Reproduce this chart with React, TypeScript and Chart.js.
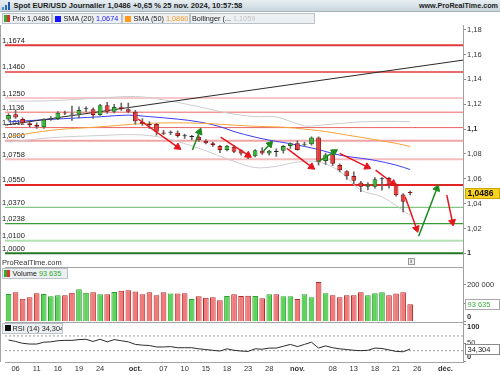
import React, { useEffect, useRef } from 'react';
import { Chart, registerables } from 'chart.js';

Chart.register(...registerables);

const FONT = '"Liberation Sans", Arial, sans-serif';

// ---------- data ----------
const dates = ['05/09','06/09','09/09','10/09','11/09','12/09','13/09','16/09','17/09','18/09','19/09','20/09','23/09','24/09','25/09','26/09','27/09','30/09',
  '01/10','02/10','03/10','04/10','07/10','08/10','09/10','10/10','11/10','14/10','15/10','16/10','17/10','18/10','21/10','22/10','23/10','24/10','25/10','28/10','29/10','30/10','31/10',
  '01/11','04/11','05/11','06/11','07/11','08/11','11/11','12/11','13/11','14/11','15/11','18/11','19/11','20/11','21/11','22/11','25/11',
  '26/11','27/11','28/11','29/11','02/12','03/12','04/12'];

const tickDates = ['06/09','11/09','16/09','19/09','24/09','01/10','07/10','10/10','15/10','18/10','23/10','28/10','01/11','08/11','13/11','18/11','21/11','26/11','02/12'];
const tickText = ['06','11','16','19','24','oct.','07','10','15','18','23','28','nov.','08','13','18','21','26','déc.'];
const monthTicks = ['oct.','nov.','déc.'];

const opens = [1.1078,1.1119,1.1081,1.1046,1.1032,1.1014,1.1078,1.1081,1.1131,1.1120,1.1118,1.1160,1.1160,1.1113,1.1192,1.1140,1.1176,1.1159,
  1.1140,1.1059,1.1040,1.1040,1.0972,1.0970,1.0970,1.0945,1.0936,1.0938,1.0906,1.0885,1.0863,1.0831,1.0857,1.0830,1.0798,1.0782,1.0825,1.0804,1.0818,1.0825,1.0863,
  1.0885,1.0874,1.0877,1.0933,1.0742,1.0798,1.0710,1.0661,1.0623,1.0570,1.0535,1.0535,1.0597,1.0607,1.0554,1.0473,1.0490];
const highs = [1.1125,1.1150,1.1090,1.1055,1.1050,1.1085,1.1100,1.1140,1.1145,1.1185,1.1180,1.1180,1.1170,1.1200,1.1215,1.1200,1.1210,1.1210,
  1.1150,1.1085,1.1060,1.1045,1.0990,1.0985,1.0985,1.0960,1.0950,1.0945,1.0915,1.0895,1.0870,1.0870,1.0870,1.0835,1.0805,1.0835,1.0850,1.0830,1.0840,1.0870,1.0890,
  1.0905,1.0895,1.0937,1.0937,1.0806,1.0810,1.0720,1.0665,1.0655,1.0580,1.0570,1.0610,1.0610,1.0612,1.0560,1.0480,1.0500];
const lows = [1.1070,1.1085,1.1040,1.1020,1.1005,1.1005,1.1070,1.1075,1.1115,1.1070,1.1090,1.1140,1.1085,1.1110,1.1125,1.1130,1.1150,1.1130,
  1.1040,1.1030,1.1005,1.0950,1.0955,1.0955,1.0935,1.0925,1.0915,1.0900,1.0880,1.0860,1.0810,1.0825,1.0810,1.0790,1.0761,1.0775,1.0795,1.0790,1.0780,1.0805,1.0845,
  1.0830,1.0860,1.0870,1.0710,1.0716,1.0705,1.0655,1.0595,1.0560,1.0497,1.0510,1.0525,1.0508,1.0525,1.0460,1.0333,1.0470];
const closes = [1.1113,1.1094,1.1046,1.1030,1.1019,1.1078,1.1080,1.1131,1.1126,1.1117,1.1153,1.1162,1.1113,1.1192,1.1140,1.1178,1.1160,1.1140,
  1.1062,1.1042,1.1030,1.0978,1.0962,1.0971,1.0944,1.0942,1.0939,1.0911,1.0885,1.0869,1.0831,1.0865,1.0817,1.0804,1.0782,1.0830,1.0804,1.0825,1.0816,1.0863,1.0885,
  1.0831,1.0880,1.0933,1.0736,1.0796,1.0720,1.0669,1.0621,1.0583,1.0535,1.0554,1.0597,1.0599,1.0548,1.0468,1.0414,1.0486];

const volumes = [149000,158000,124000,131000,153000,149000,137000,142000,142000,156000,174000,156000,158000,147000,147000,160000,167000,169000,
  163000,147000,158000,142000,158000,151000,151000,153000,122000,137000,129000,131000,115000,138000,147000,138000,140000,138000,126000,147000,147000,137000,137000,
  122000,147000,131000,213000,153000,142000,131000,142000,142000,158000,142000,153000,158000,142000,151000,158000,93635];

const rsiValues = [59,55,50,48,48,53,54,57,58,58,60,61,55,61,54,60,57,54,
  47,45,44,40,40,41,38,38,38,35,33,31,29,35,31,29,28,35,34,37,37,42,47,
  41,47,53,37,43,38,35,33,31,30,31,37,36,32,28,27,34.304];

const sma20Idx = [0,6,13,17,20,24,27,30,32,35,37,40,42,44,47,50,52,55,57];
const sma20Val = [1.1058,1.1078,1.1099,1.1112,1.1100,1.1080,1.1058,1.1020,1.0980,1.0935,1.0911,1.0882,1.0860,1.0835,1.0790,1.0765,1.0748,1.0710,1.0674];
const sma50Idx = [0,6,13,19,23,28,34,39,42,45,48,52,55,57];
const sma50Val = [1.0937,1.0990,1.1018,1.1044,1.1050,1.1045,1.1025,1.1015,1.1000,1.0980,1.0952,1.0915,1.0885,1.0860];
const bollUpIdx = [0,6,13,18,22,27,31,35,38,42,44,47,50,54,57];
const bollUpVal = [1.1225,1.1228,1.1250,1.1262,1.1235,1.1180,1.1130,1.1100,1.1098,1.1025,1.1030,1.1045,1.1058,1.1062,1.1059];
const bollLoIdx = [0,6,13,18,22,27,32,35,38,41,44,47,50,53,57];
const bollLoVal = [1.0895,1.0930,1.0948,1.0955,1.0930,1.0845,1.0740,1.0690,1.0700,1.0735,1.0735,1.0660,1.0508,1.0454,1.0306];

const trendIdx = [-0.5, 64.5];
const trendVal = [1.1032, 1.1555];

const levelValues = [1.1674,1.1460,1.1250,1.1136,1.1012,1.0906,1.0758,1.0550,1.0370,1.0238,1.0100,1.0000];
const levelColors = ['#e23a3a','#e23a3a','#f29090','#ec6464','#ec6464','#f2a4a4','#f6bcbc','#e22424','#66bb66','#3a9a3a','#b4e0b4','#237a23'];
const levelWidths = [2,1.5,1,1,1,2,2,2,1,1.2,2,2];

const arrowX0 = [18.4,30.1,39.5,47.0,52.1,56.3,62.2,26.1,36.2,43.9,58.2];
const arrowY0 = [1.1081,1.0935,1.0844,1.0804,1.0669,1.0454,1.0468,1.0831,1.0823,1.0736,1.0137];
const arrowX1 = [24.0,34.0,43.0,50.9,54.6,57.9,63.0,27.1,37.1,46.2,60.8];
const arrowY1 = [1.0855,1.0790,1.0696,1.0696,1.0562,1.0199,1.0252,1.0978,1.0879,1.0817,1.0522];
const arrowDir = ['down','down','down','down','down','down','down','up','up','up','up'];

const priceTicks = [1.0,1.02,1.04,1.06,1.08,1.1,1.12,1.14,1.16,1.18];
const boldPrice = [1.0, 1.1];
const volTicks = [0, 100000, 200000];
const rsiTicks = [0, 50, 100];
const rsiBands = [70, 30];

const sma20Last = 1.0674;
const sma50Last = 1.0860;
const bollLast = 1.1059;

// ---------- helpers ----------
const fmtPrice = (v: number) => (Math.round(v * 100) / 100).toString().replace('.', ',');
const fmt4 = (v: number) => v.toFixed(4).replace('.', ',');
const fmtVol = (v: number) => Math.round(v).toString().replace(/\B(?=(\d{3})+(?!\d))/g, ' ');
const fmtRsi = (v: number) => v.toFixed(3).replace('.', ',');

const GREEN_F = '#34b834', GREEN_B = '#1d641d', RED_F = '#e63a3a', RED_B = '#8e1414';

function buildConfig(): any {
  const idx = closes.map((_, i) => i);
  const isUp = (i: number) => closes[i] >= opens[i];
  const isDoji = (i: number) => Math.abs(closes[i] - opens[i]) < 0.00035;
  const pts = (xs: number[], ys: number[]) => xs.map((x, i) => ({ x, y: ys[i] }));
  const xMin = -0.5, xMax = dates.length - 0.5;
  const tickIdx = tickDates.map(d => dates.indexOf(d));

  const datasets: any[] = [];

  levelValues.forEach((v, k) => {
    datasets.push({ type: 'line', yAxisID: 'yPrice', data: [{ x: xMin, y: v }, { x: xMax, y: v }],
      borderColor: levelColors[k], borderWidth: levelWidths[k], pointRadius: 0, order: 100 });
  });
  datasets.push({ type: 'line', yAxisID: 'yPrice', data: pts(bollUpIdx, bollUpVal), borderColor: '#cdcdcd', borderWidth: 1, pointRadius: 0, tension: 0.35, order: 90 });
  datasets.push({ type: 'line', yAxisID: 'yPrice', data: pts(bollLoIdx, bollLoVal), borderColor: '#cdcdcd', borderWidth: 1, pointRadius: 0, tension: 0.35, order: 90 });
  datasets.push({ type: 'line', yAxisID: 'yPrice', data: pts(sma50Idx, sma50Val), borderColor: '#f7a43a', borderWidth: 1, pointRadius: 0, tension: 0.35, order: 80 });
  datasets.push({ type: 'line', yAxisID: 'yPrice', data: pts(sma20Idx, sma20Val), borderColor: '#3d3dfa', borderWidth: 1, pointRadius: 0, tension: 0.35, order: 80 });
  datasets.push({ type: 'line', yAxisID: 'yPrice', data: pts(trendIdx, trendVal), borderColor: '#2a2a2a', borderWidth: 1, pointRadius: 0, order: 70 });

  datasets.push({ type: 'bar', yAxisID: 'yPrice', grouped: false, order: 51,
    data: idx.map(i => ({ x: i, y: [lows[i], highs[i]] })),
    backgroundColor: '#6a6a6a', maxBarThickness: 1, barPercentage: 1, categoryPercentage: 1, borderWidth: 0 });
  datasets.push({ type: 'bar', yAxisID: 'yPrice', grouped: false, order: 50,
    data: idx.map(i => ({ x: i, y: [opens[i], closes[i]] })),
    backgroundColor: idx.map(i => isDoji(i) ? '#222' : isUp(i) ? GREEN_F : RED_F),
    borderColor: idx.map(i => isDoji(i) ? '#222' : isUp(i) ? GREEN_B : RED_B),
    borderWidth: 1, borderSkipped: false, minBarLength: 1, barPercentage: 0.68, categoryPercentage: 1 });
  datasets.push({ type: 'bar', yAxisID: 'yVol', grouped: false, order: 50,
    data: idx.map(i => ({ x: i, y: volumes[i] })),
    backgroundColor: idx.map(i => isUp(i) ? '#5cd45c' : '#f07a7a'),
    borderColor: idx.map(i => isUp(i) ? '#2e9e2e' : '#b42a2a'),
    borderWidth: 1, borderSkipped: 'start', barPercentage: 0.8, categoryPercentage: 1 });
  rsiBands.forEach(b => {
    datasets.push({ type: 'line', yAxisID: 'yRsi', data: [{ x: xMin, y: b }, { x: xMax, y: b }],
      borderColor: '#9a9a9a', borderWidth: 1, borderDash: [2, 2], pointRadius: 0, order: 60 });
  });
  datasets.push({ type: 'line', yAxisID: 'yRsi', data: idx.map(i => ({ x: i, y: rsiValues[i] })),
    borderColor: '#2b2b2b', borderWidth: 1, pointRadius: 0, order: 55 });

  arrowX0.forEach((_, k) => {
    const col = arrowDir[k] === 'down' ? '#e8141c' : '#1b8a1b';
    datasets.push({ type: 'line', yAxisID: 'yPrice', order: 10,
      data: [{ x: arrowX0[k], y: arrowY0[k] }, { x: arrowX1[k], y: arrowY1[k] }],
      borderColor: col, borderWidth: 1.5, pointRadius: [0, 4], pointStyle: 'triangle',
      pointBackgroundColor: col, pointBorderColor: col, pointBorderWidth: 1,
      pointRotation: (ctx: any) => {
        const ch = ctx.chart; const d = ch.data.datasets[ctx.datasetIndex].data;
        const xs = ch.scales.x, ys = ch.scales.yPrice;
        if (!xs || !ys) return 0;
        const dx = xs.getPixelForValue(d[1].x) - xs.getPixelForValue(d[0].x);
        const dy = ys.getPixelForValue(d[1].y) - ys.getPixelForValue(d[0].y);
        return Math.atan2(dx, -dy) * 180 / Math.PI;
      } });
  });

  const overlay = {
    id: 'overlay',
    beforeDatasetsDraw(chart: any) {
      const { ctx } = chart; const ys = chart.scales.yPrice;
      ctx.save();
      ctx.font = `7.5px ${FONT}`; ctx.fillStyle = '#222'; ctx.textAlign = 'left'; ctx.textBaseline = 'alphabetic';
      levelValues.forEach(v => ctx.fillText(fmt4(v), 2, ys.getPixelForValue(v) - 2.5));
      ctx.restore();
    },
    afterDraw(chart: any) {
      const { ctx, chartArea: ca } = chart;
      const yv = chart.scales.yVol, yr = chart.scales.yRsi, yp = chart.scales.yPrice;
      ctx.save();
      ctx.strokeStyle = '#a4a4a4'; ctx.lineWidth = 1;
      ctx.beginPath();
      [yv.top, yr.top, ca.bottom].forEach((y: number) => { const yy = Math.round(y) + 0.5; ctx.moveTo(ca.left, yy); ctx.lineTo(ca.right, yy); });
      ctx.moveTo(0.5, ca.top); ctx.lineTo(0.5, ca.bottom);
      ctx.stroke();

      const lx = ca.right + 4;
      const drawClamped = (scale: any, ticks: number[], texts: string[], bold: boolean[]) => {
        ticks.forEach((t, k) => {
          let y = scale.getPixelForValue(t);
          y = Math.max(scale.top + 5, Math.min(scale.bottom - 5, y));
          ctx.font = `${bold[k] ? 'bold ' : ''}7.5px ${FONT}`;
          ctx.fillStyle = '#333'; ctx.textAlign = 'left'; ctx.textBaseline = 'middle';
          ctx.fillText(texts[k], lx, y);
        });
      };
      drawClamped(yv, volTicks, volTicks.map(v => fmtVol(v)), volTicks.map(v => v === 0));
      drawClamped(yr, rsiTicks, rsiTicks.map(v => String(v)), rsiTicks.map(v => v !== 50));

      const tag = (y: number, text: string, bg: string, border: string, color: string, bold: boolean) => {
        const x0 = ca.right + 2.5, w = 34, h = 10;
        ctx.fillStyle = bg; ctx.strokeStyle = border; ctx.lineWidth = 1;
        ctx.fillRect(x0, Math.round(y - h / 2) + 0.5, w, h);
        ctx.strokeRect(x0, Math.round(y - h / 2) + 0.5, w, h);
        ctx.font = `${bold ? 'bold ' : ''}${bold ? 8.5 : 7.5}px ${FONT}`;
        ctx.fillStyle = color; ctx.textAlign = 'left'; ctx.textBaseline = 'middle';
        ctx.fillText(text, x0 + 2, Math.round(y) + 0.5);
      };
      const last = closes.length - 1;
      tag(yp.getPixelForValue(closes[last]), fmt4(closes[last]), '#f8d21c', '#c9a500', '#111', true);
      tag(yv.getPixelForValue(volumes[last]), fmtVol(volumes[last]), '#ffffff', '#a8a8a8', '#3cb43c', false);
      tag(yr.getPixelForValue(rsiValues[last]), fmtRsi(rsiValues[last]), '#ffffff', '#8a8a8a', '#222', false);
      ctx.restore();
    },
  };

  const rightAxisBase = (weight: number) => ({
    type: 'linear', position: 'right', stack: 'panels', stackWeight: weight,
    grid: { drawOnChartArea: false, tickLength: 3, color: '#8a8a8a' },
    border: { color: '#a0a0a0' },
    afterFit: (s: any) => { s.width = 37; },
  });

  return {
    data: { datasets },
    options: {
      animation: false, responsive: false, events: [],
      layout: { padding: { top: 25, left: 0, right: 0, bottom: 0 } },
      plugins: { legend: { display: false }, tooltip: { enabled: false } },
      scales: {
        x: {
          type: 'linear', position: 'bottom', min: xMin, max: xMax, offset: false,
          afterBuildTicks: (s: any) => { s.ticks = tickIdx.map(v => ({ value: v })); },
          afterFit: (s: any) => { s.height = 13; },
          grid: { display: false, drawTicks: false, tickLength: 0, offset: false }, border: { display: false },
          ticks: {
            autoSkip: false, maxRotation: 0, padding: 2.5, color: '#333',
            callback: (_v: any, i: number) => tickText[i],
            font: (c: any) => ({ family: FONT, size: 7.5,
              weight: (c && typeof c.index === 'number' && monthTicks.includes(tickText[c.index])) ? 'bold' : 'normal' }),
          },
        },
        yPrice: {
          ...rightAxisBase(242.3), min: 0.98872, max: 1.18378,
          afterBuildTicks: (s: any) => { s.ticks = priceTicks.map(v => ({ value: v })); },
          ticks: {
            padding: 1, color: '#333',
            callback: (v: number) => fmtPrice(v),
            font: (c: any) => ({ family: FONT, size: 7.5,
              weight: (c && c.tick && boldPrice.some(b => Math.abs(b - c.tick.value) < 1e-6)) ? 'bold' : 'normal' }),
          },
        },
        yVol: {
          ...rightAxisBase(54.4), min: 0, max: 292500,
          afterBuildTicks: (s: any) => { s.ticks = volTicks.map(v => ({ value: v })); },
          ticks: { display: false },
        },
        yRsi: {
          ...rightAxisBase(40.3), min: -0.8, max: 108.7,
          afterBuildTicks: (s: any) => { s.ticks = rsiTicks.map(v => ({ value: v })); },
          ticks: { display: false },
        },
      },
    },
    plugins: [overlay],
  };
}

const box: React.CSSProperties = {
  position: 'absolute', height: 11, boxSizing: 'border-box', background: '#edf0f2',
  border: '1px solid #bcc3c8', fontSize: 7.3, lineHeight: '9px', color: '#222', whiteSpace: 'nowrap', overflow: 'hidden',
};
const sq = (c: string, left: number): React.CSSProperties => ({ position: 'absolute', left, top: 1.5, width: 6, height: 6, background: c });

function TwoTone({ left }: { left: number }) {
  return (
    <span style={{ position: 'absolute', left, top: 1, width: 6, height: 7, display: 'flex' }}>
      <span style={{ width: 3, height: 7, background: '#2db02d' }} />
      <span style={{ width: 3, height: 7, background: '#e23030' }} />
    </span>
  );
}

export default function App() {
  const ref = useRef<HTMLCanvasElement>(null);
  useEffect(() => {
    if (!ref.current) return;
    const chart = new Chart(ref.current, buildConfig());
    return () => chart.destroy();
  }, []);
  const last = closes.length - 1;
  return (
    <div style={{ position: 'fixed', left: 0, top: 0, width: 500, height: 375, background: '#fff', overflow: 'hidden', fontFamily: FONT }}>
      <canvas ref={ref} width={500} height={375} style={{ position: 'absolute', left: 0, top: 0, width: 500, height: 375 }} />
      <div style={{ position: 'absolute', left: 0, top: 0, width: 500, height: 12, boxSizing: 'border-box',
        background: 'linear-gradient(#e8eff3, #c8d5dc)', borderBottom: '1px solid #a5b4bd' }}>
        <span style={{ position: 'absolute', left: 2, top: 2, width: 8, height: 8, display: 'flex', alignItems: 'flex-end', gap: 1 }}>
          <span style={{ width: 2, height: 3, background: '#4a90d9' }} />
          <span style={{ width: 2, height: 5, background: '#2f6fc0' }} />
          <span style={{ width: 2, height: 8, background: '#1e58a8' }} />
        </span>
        <span style={{ position: 'absolute', left: 13.5, top: 1, fontSize: 7.6, lineHeight: '10px', fontWeight: 'bold', color: '#1c1c1c', whiteSpace: 'nowrap' }}>
          Spot EUR/USD Journalier {fmt4(closes[last])} +0,65 % 25 nov. 2024, 10:57:58
        </span>
        <span style={{ position: 'absolute', right: 2, top: 1, fontSize: 7.2, lineHeight: '10px', fontWeight: 'bold', color: '#1c1c1c', whiteSpace: 'nowrap' }}>
          www.ProRealTime.com
        </span>
      </div>
      <div style={{ ...box, left: 1.5, top: 13, width: 50.5 }}>
        <TwoTone left={1.5} />
        <span style={{ position: 'absolute', left: 10 }}>Prix {fmt4(closes[last])}</span>
      </div>
      <div style={{ ...box, left: 52, top: 13, width: 70 }}>
        <span style={sq('#1414ff', 2)} />
        <span style={{ position: 'absolute', left: 10.5 }}>SMA (20) <span style={{ color: '#2222ff' }}>{fmt4(sma20Last)}</span></span>
      </div>
      <div style={{ ...box, left: 122, top: 13, width: 68 }}>
        <span style={sq('#ff9a1a', 2)} />
        <span style={{ position: 'absolute', left: 10.5 }}>SMA (50) <span style={{ color: '#f29a2a' }}>{fmt4(sma50Last)}</span></span>
      </div>
      <div style={{ ...box, left: 190, top: 13, width: 125 }}>
        <span style={{ position: 'absolute', left: 1 }}>Bollinger (... <span style={{ color: '#c4c4c4' }}>{fmt4(bollLast)}</span></span>
      </div>
      <div style={{ position: 'absolute', left: 2, top: 257.5, fontSize: 7.5, lineHeight: '9px', color: '#333' }}>ProRealTime.com</div>
      <div style={{ position: 'absolute', left: 407.5, top: 257.5, width: 7, height: 7, boxSizing: 'border-box', border: '1px solid #9a9a9a',
        background: '#eeeeee', fontSize: 6, lineHeight: '5px', textAlign: 'center', color: '#555', fontWeight: 'bold' }}>i</div>
      <div style={{ ...box, left: 1.5, top: 268, width: 66 }}>
        <TwoTone left={1.5} />
        <span style={{ position: 'absolute', left: 10 }}>Volume <span style={{ color: '#2aa82a' }}>{fmtVol(volumes[last])}</span></span>
      </div>
      <div style={{ ...box, left: 1.5, top: 322.5, width: 61 }}>
        <span style={sq('#111', 2)} />
        <span style={{ position: 'absolute', left: 10 }}>RSI (14) {fmtRsi(rsiValues[last])}</span>
      </div>
    </div>
  );
}
